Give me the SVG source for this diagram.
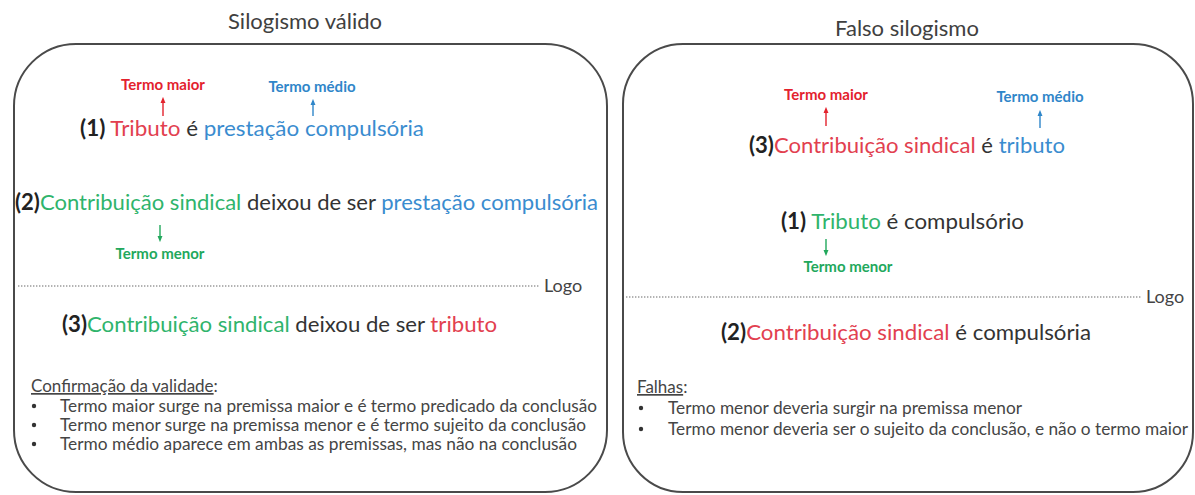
<svg xmlns="http://www.w3.org/2000/svg" width="1195" height="495" viewBox="0 0 1195 495">
<style>
text{font-family:Lato,"Open Sans","Liberation Sans",sans-serif}
.title{font-size:22px;fill:#404040;text-anchor:middle}
.main{font-size:22px;fill:#333}
.num{font-weight:bold;fill:#222}
.lbl{font-size:15px;font-weight:bold;text-anchor:middle}
.bul{font-size:17px;fill:#454545}
.red{fill:#e2404f}
.blu{fill:#3a8ccf}
.grn{fill:#2fb46c}
.lred{fill:#e3222d}
.lblu{fill:#2f86c9}
.lgrn{fill:#22a85c}
.box{fill:none;stroke:#4a4a4a;stroke-width:2}
.dot{stroke:#9a9a9a;stroke-width:1.3;stroke-dasharray:1.4 1.6}
.logo{font-size:18px;fill:#444}
.ar{stroke-width:1.4;fill:none}
.bd{fill:#333}
</style>
<defs>
<marker id="mr" viewBox="0 0 10 10" refX="5" refY="5" markerWidth="4.5" markerHeight="4.5" orient="auto"><path d="M0,1 L10,5 L0,9 z" fill="#e3222d"/></marker>
<marker id="mb" viewBox="0 0 10 10" refX="5" refY="5" markerWidth="4.5" markerHeight="4.5" orient="auto"><path d="M0,1 L10,5 L0,9 z" fill="#2f86c9"/></marker>
<marker id="mg" viewBox="0 0 10 10" refX="5" refY="5" markerWidth="4.5" markerHeight="4.5" orient="auto"><path d="M0,1 L10,5 L0,9 z" fill="#22a85c"/></marker>
</defs>

<g id="valido">
<text class="title" x="305" y="29">Silogismo válido</text>
<rect class="box" x="14" y="44" width="593" height="448" rx="62" ry="62"/>
<text class="lbl lred" x="163" y="90">Termo maior</text>
<text class="lbl lblu" x="312" y="92">Termo médio</text>
<text class="main" x="80" y="136" textLength="344" lengthAdjust="spacingAndGlyphs"><tspan class="num">(1)</tspan> <tspan class="red">Tributo</tspan> é <tspan class="blu">prestação compulsória</tspan></text>
<text class="main" x="15" y="210" textLength="583" lengthAdjust="spacingAndGlyphs"><tspan class="num">(2)</tspan><tspan class="grn">Contribuição sindical</tspan> deixou de ser <tspan class="blu">prestação compulsória</tspan></text>
<text class="lbl lgrn" x="160" y="259">Termo menor</text>
<line class="dot" x1="18" y1="286" x2="539" y2="286"/>
<text class="logo" x="544" y="292">Logo</text>
<text class="main" x="62" y="332" textLength="435" lengthAdjust="spacingAndGlyphs"><tspan class="num">(3)</tspan><tspan class="grn">Contribuição sindical</tspan> deixou de ser <tspan class="red">tributo</tspan></text>
<text class="bul" x="31" y="392"><tspan text-decoration="underline">Confirmação da validade</tspan>:</text>
<circle class="bd" cx="34" cy="406" r="2.2"/>
<circle class="bd" cx="34" cy="425" r="2.2"/>
<circle class="bd" cx="34" cy="444" r="2.2"/>
<text class="bul" x="60" y="412" textLength="537" lengthAdjust="spacingAndGlyphs">Termo maior surge na premissa maior e é termo predicado da conclusão</text>
<text class="bul" x="60" y="431" textLength="526" lengthAdjust="spacingAndGlyphs">Termo menor surge na premissa menor e é termo sujeito da conclusão</text>
<text class="bul" x="60" y="450" textLength="517" lengthAdjust="spacingAndGlyphs">Termo médio aparece em ambas as premissas, mas não na conclusão</text>
</g>

<g id="falso">
<text class="title" x="907" y="36">Falso silogismo</text>
<rect class="box" x="623" y="44" width="570" height="448" rx="60" ry="60"/>
<text class="lbl lred" x="826" y="100">Termo maior</text>
<text class="lbl lblu" x="1040" y="102">Termo médio</text>
<text class="main" x="749" y="153" textLength="316" lengthAdjust="spacingAndGlyphs"><tspan class="num">(3)</tspan><tspan class="red">Contribuição sindical</tspan> é <tspan class="blu">tributo</tspan></text>
<text class="main" x="781" y="229" textLength="243" lengthAdjust="spacingAndGlyphs"><tspan class="num">(1)</tspan> <tspan class="grn">Tributo</tspan> é compulsório</text>
<text class="lbl lgrn" x="848" y="272">Termo menor</text>
<line class="dot" x1="626" y1="297" x2="1141" y2="297"/>
<text class="logo" x="1146" y="303">Logo</text>
<text class="main" x="721" y="340" textLength="370" lengthAdjust="spacingAndGlyphs"><tspan class="num">(2)</tspan><tspan class="red">Contribuição sindical</tspan> é compulsória</text>
<text class="bul" x="637" y="393"><tspan text-decoration="underline">Falhas</tspan>:</text>
<circle class="bd" cx="641" cy="408" r="2.2"/>
<circle class="bd" cx="641" cy="429" r="2.2"/>
<text class="bul" x="668" y="414" textLength="354" lengthAdjust="spacingAndGlyphs">Termo menor deveria surgir na premissa menor</text>
<text class="bul" x="668" y="435" textLength="520" lengthAdjust="spacingAndGlyphs">Termo menor deveria ser o sujeito da conclusão, e não o termo maior</text>
</g>

<g id="connectors">
<line class="ar" stroke="#e3222d" x1="163" y1="116" x2="163" y2="100" marker-end="url(#mr)"/>
<line class="ar" stroke="#2f86c9" x1="313" y1="116" x2="313" y2="102" marker-end="url(#mb)"/>
<line class="ar" stroke="#22a85c" x1="160" y1="225" x2="160" y2="239" marker-end="url(#mg)"/>
<line class="ar" stroke="#e3222d" x1="826" y1="126" x2="826" y2="110" marker-end="url(#mr)"/>
<line class="ar" stroke="#2f86c9" x1="1040" y1="128" x2="1040" y2="113" marker-end="url(#mb)"/>
<line class="ar" stroke="#22a85c" x1="826" y1="239" x2="826" y2="253" marker-end="url(#mg)"/>
</g>
</svg>
